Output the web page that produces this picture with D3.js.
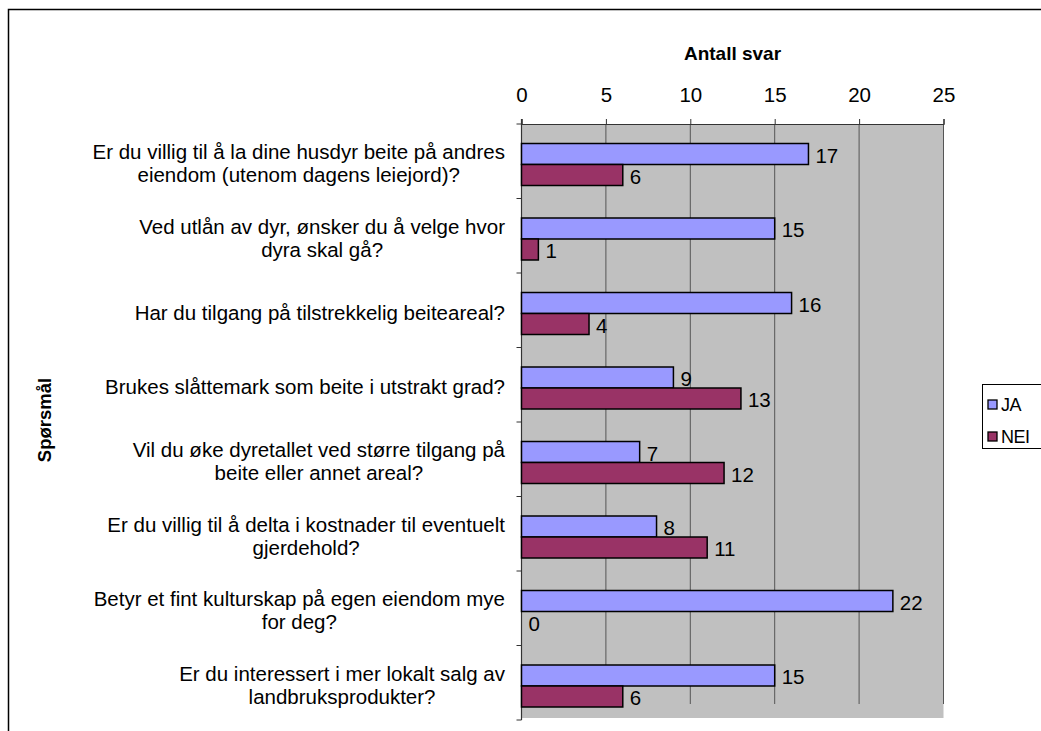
<!DOCTYPE html>
<html>
<head>
<meta charset="utf-8">
<script src="https://cdn.jsdelivr.net/npm/d3@7"></script>
<style>
  body { margin: 0; background: #fff; }
  text { font-family: "Liberation Sans", Arial, sans-serif; fill: #000; }
</style>
</head>
<body>
<div class="container"></div>
<script>
// questions (each entry = label lines)
const questions = [
  ['Er du villig til å la dine husdyr beite på andres', 'eiendom (utenom dagens leiejord)?'],
  ['Ved utlån av dyr, ønsker du å velge hvor', 'dyra skal gå?'],
  ['Har du tilgang på tilstrekkelig beiteareal?'],
  ['Brukes slåttemark som beite i utstrakt grad?'],
  ['Vil du øke dyretallet ved større tilgang på', 'beite eller annet areal?'],
  ['Er du villig til å delta i kostnader til eventuelt', 'gjerdehold?'],
  ['Betyr et fint kulturskap på egen eiendom mye', 'for deg?'],
  ['Er du interessert i mer lokalt salg av', 'landbruksprodukter?']
];
const seriesNames = ['JA', 'NEI'];
const jaValues = [17, 15, 16, 9, 7, 8, 22, 15];
const neiValues = [6, 1, 4, 13, 12, 11, 0, 6];
const xTicks = [0, 5, 10, 15, 20, 25];
const colors = { JA: '#9999FF', NEI: '#993366' };

const width = 1041, height = 731;
const plot = { left: 521.5, right: 943.5, top: 124, bottom: 720 };
const fontSize = 20.5;

const svg = d3.select('.container').append('svg')
  .attr('width', width)
  .attr('height', height);

// outer chart frame (runs off the picture on the right and bottom)
svg.append('rect')
  .attr('x', 8.5).attr('y', 9.5)
  .attr('width', 1040).attr('height', 760)
  .attr('fill', '#fff')
  .attr('stroke', '#000').attr('stroke-width', 1.5);

const x = d3.scaleLinear().domain([0, 25]).range([plot.left, plot.right]);
const y = d3.scaleBand().domain(d3.range(questions.length)).range([plot.top, plot.bottom]);
const ySub = d3.scaleBand().domain(seriesNames).range([19.5, 61.5]);

// plot background
svg.append('rect')
  .attr('x', plot.left).attr('y', plot.top)
  .attr('width', plot.right - plot.left).attr('height', plot.bottom - plot.top - 2)
  .attr('fill', '#C0C0C0');

// vertical gridlines (they stop a bit above the bottom in the original)
svg.append('g')
  .selectAll('line')
  .data(xTicks.slice(1))
  .enter().append('line')
  .attr('x1', d => x(d)).attr('x2', d => x(d))
  .attr('y1', plot.top).attr('y2', plot.bottom - 16)
  .attr('stroke', '#555').attr('stroke-width', 1);

// top axis
const xAxis = svg.append('g')
  .attr('transform', `translate(0,${plot.top})`)
  .call(d3.axisTop(x).tickValues(xTicks).tickSize(5).tickPadding(17));
xAxis.select('.domain').attr('stroke', '#333').attr('stroke-width', 1.2);
xAxis.selectAll('.tick line').attr('stroke', '#333');
xAxis.selectAll('text')
  .attr('font-size', fontSize)
  .attr('font-family', '"Liberation Sans", Arial, sans-serif')
  .attr('fill', '#000');

// left axis (category boundaries)
const bounds = d3.range(questions.length + 1).map(i => plot.top + i * y.bandwidth());
svg.append('line')
  .attr('x1', plot.left).attr('x2', plot.left)
  .attr('y1', plot.top - 5).attr('y2', plot.bottom)
  .attr('stroke', '#333').attr('stroke-width', 1.2);
svg.append('g')
  .selectAll('line')
  .data(bounds)
  .enter().append('line')
  .attr('x1', plot.left - 5).attr('x2', plot.left)
  .attr('y1', d => d).attr('y2', d => d)
  .attr('stroke', '#333');

// category labels: lines centred in a block that is right aligned
const labelRight = 505;
questions.forEach((lines, i) => {
  const g = svg.append('g');
  const lineH = 23;
  const cy = y(i) + y.bandwidth() / 2 + 2;
  const texts = g.selectAll('text')
    .data(lines)
    .enter().append('text')
    .attr('font-size', fontSize)
    .attr('text-anchor', 'middle')
    .attr('dominant-baseline', 'central')
    .attr('y', (d, j) => cy + (j - (lines.length - 1) / 2) * lineH)
    .text(d => d);
  let maxW = 0;
  texts.each(function () { maxW = Math.max(maxW, this.getComputedTextLength()); });
  texts.attr('x', labelRight - maxW / 2);
});

// bars
const rows = questions.map((q, i) => ({ i, JA: jaValues[i], NEI: neiValues[i] }));
const groups = svg.append('g').selectAll('g')
  .data(rows)
  .enter().append('g')
  .attr('transform', d => `translate(0,${y(d.i)})`);

groups.selectAll('rect')
  .data(d => seriesNames.map(s => ({ s, v: d[s] })))
  .enter().append('rect')
  .attr('x', x(0))
  .attr('y', d => ySub(d.s))
  .attr('width', d => x(d.v) - x(0))
  .attr('height', ySub.bandwidth())
  .attr('fill', d => colors[d.s])
  .attr('stroke', d => d.v > 0 ? '#000' : 'none')
  .attr('stroke-width', 1.5);

groups.selectAll('text')
  .data(d => seriesNames.map(s => ({ s, v: d[s] })))
  .enter().append('text')
  .attr('x', d => x(d.v) + 7)
  .attr('y', d => ySub(d.s) + ySub.bandwidth() / 2 + 1)
  .attr('dominant-baseline', 'central')
  .attr('font-size', fontSize)
  .text(d => d.v);

// axis titles
svg.append('text')
  .attr('x', (plot.left + plot.right) / 2)
  .attr('y', 60)
  .attr('text-anchor', 'middle')
  .attr('font-size', 19)
  .attr('font-weight', 'bold')
  .text('Antall svar');

svg.append('text')
  .attr('transform', 'translate(51,420) rotate(-90)')
  .attr('text-anchor', 'middle')
  .attr('font-size', 18.5)
  .attr('font-weight', 'bold')
  .text('Spørsmål');

// legend
const legend = svg.append('g').attr('transform', 'translate(982,384)');
legend.append('rect')
  .attr('x', 0.5).attr('y', 0.5)
  .attr('width', 100).attr('height', 64)
  .attr('fill', '#fff')
  .attr('stroke', '#000').attr('stroke-width', 1);
const items = legend.selectAll('g.item')
  .data(seriesNames)
  .enter().append('g')
  .attr('class', 'item')
  .attr('transform', (d, i) => `translate(6,${16 + i * 32})`);
items.append('rect')
  .attr('width', 9).attr('height', 9)
  .attr('fill', d => colors[d])
  .attr('stroke', '#000').attr('stroke-width', 1.3);
items.append('text')
  .attr('x', 13).attr('y', 5)
  .attr('dominant-baseline', 'central')
  .attr('font-size', 18)
  .attr('letter-spacing', -0.5)
  .text(d => d);
</script>
</body>
</html>
